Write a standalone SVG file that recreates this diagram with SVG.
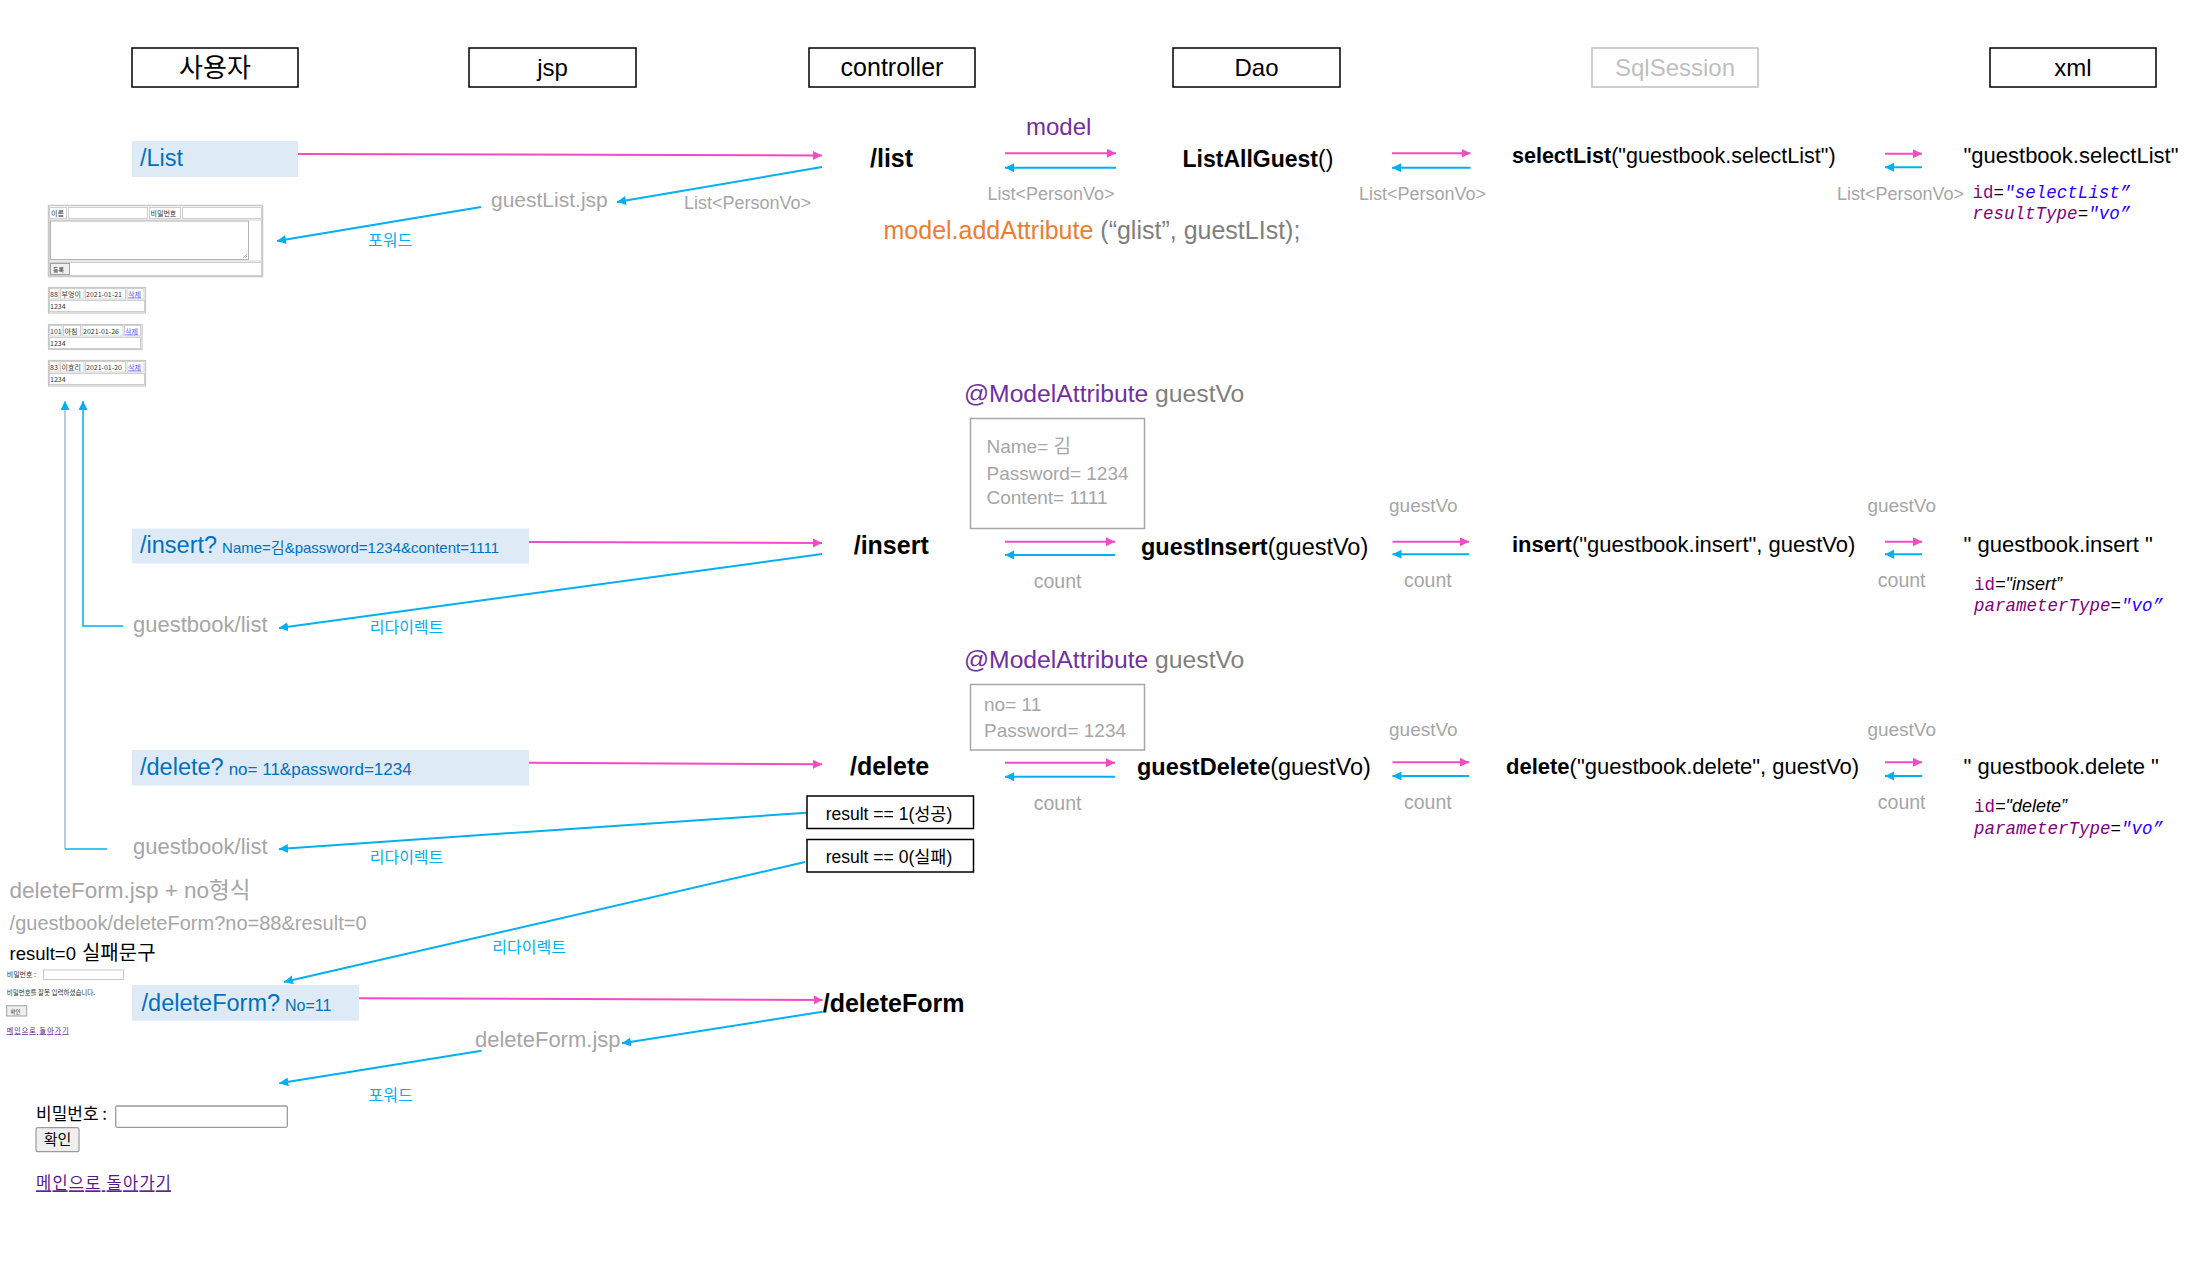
<svg xmlns="http://www.w3.org/2000/svg" width="2192" height="1285" viewBox="0 0 2192 1285">
  <style>
    text { font-family: "Liberation Sans", "Noto Sans CJK KR", sans-serif; }
    .kr { font-family: "Noto Sans CJK KR", "Liberation Sans", sans-serif; }
    .hdr { font-size: 24px; fill: #000; text-anchor: middle; }
    .hbox { fill: #fff; stroke: #000; stroke-width: 1.5; }
    .req { fill: #DEEBF7; }
    .blue { fill: #0070C0; }
    .grey { fill: #A6A6A6; }
    .dgrey { fill: #7F7F7F; }
    .purple { fill: #7030A0; }
    .orange { fill: #ED7D31; }
    .cyan { fill: #00B0F0; }
    .ep { font-size: 25px; font-weight: bold; fill: #000; }
    .call { font-size: 22px; fill: #000; }
    .lbl { font-size: 18px; fill: #A6A6A6; }
    .cnt { font-size: 19.5px; fill: #A6A6A6; }
    .kw { font-size: 16px; fill: #00B0F0; }
    .mono { font-family: "Liberation Mono", "DejaVu Sans Mono", monospace; font-size: 17.5px; }
    .attr { fill: #7F007F; }
    .val { fill: #2A00FF; font-style: italic; }
    .vbox { fill: #fff; stroke: #A6A6A6; stroke-width: 1.5; }
    .pk { stroke: #F24BC4; stroke-width: 2; fill: none; }
    .cy { stroke: #00B0F0; stroke-width: 2; fill: none; }
    .cyt { stroke: #00B0F0; stroke-width: 1.5; fill: none; }
    .gl { stroke: #8EA9C8; stroke-width: 1.2; fill: none; }
    .cell { fill: #fff; stroke: #cfcfcf; stroke-width: 1; }
    .tiny { font-family: "Noto Sans CJK KR", "Liberation Sans", sans-serif; font-size: 7px; fill: #333; }
    .lnk { fill: #5A5AFF; text-decoration: underline; }
    .btn { fill: #EFEFEF; stroke: #A0A0A0; stroke-width: 1; }
  </style>
  <defs>
    <marker id="ap" markerUnits="userSpaceOnUse" markerWidth="10" markerHeight="10" refX="9" refY="4.5" orient="auto">
      <path d="M0,0 L9,4.5 L0,9 z" fill="#F24BC4"/>
    </marker>
    <marker id="ac" markerUnits="userSpaceOnUse" markerWidth="10" markerHeight="10" refX="9" refY="4.5" orient="auto">
      <path d="M0,0 L9,4.5 L0,9 z" fill="#00B0F0"/>
    </marker>
  </defs>

  <rect width="2192" height="1285" fill="#fff"/>

  <!-- column headers -->
  <g id="col-user"><rect class="hbox" x="132" y="48" width="166" height="39"/><text class="hdr kr" x="215" y="77" style="font-size:26px">사용자</text></g>
  <g id="col-jsp"><rect class="hbox" x="469" y="48" width="167" height="39"/><text class="hdr" x="552.5" y="76">jsp</text></g>
  <g id="col-controller"><rect class="hbox" x="809" y="48" width="166" height="39"/><text class="hdr" x="892" y="76" style="font-size:25px">controller</text></g>
  <g id="col-dao"><rect class="hbox" x="1173" y="48" width="167" height="39"/><text class="hdr" x="1256.5" y="76">Dao</text></g>
  <g id="col-sqlsession"><rect class="hbox" x="1592" y="48" width="166" height="39" style="stroke:#BFBFBF"/><text class="hdr" x="1675" y="76" style="fill:#BFBFBF">SqlSession</text></g>
  <g id="col-xml"><rect class="hbox" x="1990" y="48" width="166" height="39"/><text class="hdr" x="2073" y="76">xml</text></g>

  <!-- connectors -->
  <g id="connectors">
    <!-- list flow -->
    <path class="pk" d="M298,154 L822,155.5" marker-end="url(#ap)"/>
    <path class="cy" d="M822,167 L617,202" marker-end="url(#ac)"/>
    <path class="cy" d="M481,207 L277,241" marker-end="url(#ac)"/>
    <path class="pk" d="M1005,153.3 L1116,153.3" marker-end="url(#ap)"/>
    <path class="cy" d="M1116,167.7 L1005,167.7" marker-end="url(#ac)"/>
    <path class="pk" d="M1392,153.3 L1470.5,153.3" marker-end="url(#ap)"/>
    <path class="cy" d="M1470.5,167.7 L1392,167.7" marker-end="url(#ac)"/>
    <path class="pk" d="M1885,153.7 L1922,153.7" marker-end="url(#ap)"/>
    <path class="cy" d="M1922,167.3 L1885,167.3" marker-end="url(#ac)"/>

    <!-- insert flow -->
    <path class="pk" d="M529,542 L822,543" marker-end="url(#ap)"/>
    <path class="cy" d="M822,554 L279,628" marker-end="url(#ac)"/>
    <path class="pk" d="M1005,541.7 L1115,541.7" marker-end="url(#ap)"/>
    <path class="cy" d="M1115,555 L1005,555" marker-end="url(#ac)"/>
    <path class="pk" d="M1392.5,541.7 L1469,541.7" marker-end="url(#ap)"/>
    <path class="cy" d="M1469,554.3 L1392.5,554.3" marker-end="url(#ac)"/>
    <path class="pk" d="M1885,541.7 L1922,541.7" marker-end="url(#ap)"/>
    <path class="cy" d="M1922,554.3 L1885,554.3" marker-end="url(#ac)"/>
    <path class="cyt" d="M123,626 L83,626 L83,401" marker-end="url(#ac)"/>

    <!-- delete flow -->
    <path class="pk" d="M529,762.7 L822,764.3" marker-end="url(#ap)"/>
    <path class="cy" d="M806.7,812.7 L279,849" marker-end="url(#ac)"/>
    <path class="pk" d="M1005,762.7 L1115,762.7" marker-end="url(#ap)"/>
    <path class="cy" d="M1115,776.7 L1005,776.7" marker-end="url(#ac)"/>
    <path class="pk" d="M1392.5,762.3 L1469,762.3" marker-end="url(#ap)"/>
    <path class="cy" d="M1469,776 L1392.5,776" marker-end="url(#ac)"/>
    <path class="pk" d="M1885,762.3 L1922,762.3" marker-end="url(#ap)"/>
    <path class="cy" d="M1922,776 L1885,776" marker-end="url(#ac)"/>
    <path class="cyt" d="M107,849 L65,849"/>
    <path class="gl" d="M65,849 L65,401" marker-end="url(#ac)"/>
    <path class="cy" d="M805,862 L284,982" marker-end="url(#ac)"/>

    <!-- deleteForm flow -->
    <path class="pk" d="M359,998.3 L822.7,1000" marker-end="url(#ap)"/>
    <path class="cy" d="M822.7,1011.7 L622,1043.3" marker-end="url(#ac)"/>
    <path class="cy" d="M481.5,1050.7 L279.3,1083.3" marker-end="url(#ac)"/>
  </g>

  <!-- ===== list row ===== -->
  <g id="req-list"><rect class="req" x="132" y="141" width="166" height="36"/><text class="blue" x="140" y="166" style="font-size:23.5px">/List</text></g>
  <g id="ep-list"><text class="ep" x="870" y="167">/list</text></g>
  <g id="lbl-model"><text class="purple" x="1026" y="135" style="font-size:24px">model</text></g>
  <g id="lbl-list-jsp"><text class="grey" x="491" y="207" style="font-size:21px">guestList.jsp</text></g>
  <g id="lbl-list-ret1"><text class="lbl" x="684" y="209">List&lt;PersonVo&gt;</text></g>
  <g id="lbl-forward1"><text class="kw kr" x="368" y="246">포워드</text></g>
  <g id="lbl-list-ret2"><text class="lbl" x="987.5" y="200">List&lt;PersonVo&gt;</text></g>
  <g id="lbl-list-ret3"><text class="lbl" x="1359" y="200">List&lt;PersonVo&gt;</text></g>
  <g id="lbl-list-ret4"><text class="lbl" x="1837" y="200">List&lt;PersonVo&gt;</text></g>
  <g id="code-addattr"><text x="883.5" y="239" style="font-size:25px"><tspan class="orange">model.addAttribute</tspan><tspan class="dgrey"> (“glist”, guestLIst);</tspan></text></g>
  <g id="dao-list"><text x="1182.5" y="167" style="font-size:23px;fill:#000"><tspan font-weight="bold">ListAllGuest</tspan>()</text></g>
  <g id="sql-list"><text class="call" x="1512" y="163" style="font-size:21.5px"><tspan font-weight="bold">selectList</tspan>("guestbook.selectList")</text></g>
  <g id="xml-list">
    <text class="call" x="1963.5" y="163">"guestbook.selectList"</text>
    <text class="mono" x="1972.6" y="198"><tspan class="attr">id</tspan>=<tspan class="val">"selectList”</tspan></text>
    <text class="mono" x="1972.6" y="219"><tspan class="attr" font-style="italic">resultType</tspan>=<tspan class="val">"vo”</tspan></text>
  </g>

  <!-- list page preview -->
  <g id="page-list">
    <rect x="48.5" y="205.5" width="214" height="71" fill="#fff" stroke="#c8c8c8" stroke-width="1.5"/>
    <rect class="cell" x="49.5" y="207.5" width="17" height="11"/><text class="tiny" x="51" y="216">이름</text>
    <rect class="cell" x="68.5" y="207.5" width="79" height="11"/>
    <rect class="cell" x="149.5" y="207.5" width="31" height="11"/><text class="tiny" x="150.5" y="216">비밀번호</text>
    <rect class="cell" x="182.5" y="207.5" width="79" height="11"/>
    <rect class="cell" x="49.5" y="220" width="212" height="41"/>
    <rect x="50.5" y="221" width="198" height="38.5" fill="#fff" stroke="#b4b4b4"/>
    <path d="M243,258 L247,254 M245,258 L247,256" stroke="#aaa" stroke-width="0.8"/>
    <rect class="cell" x="49.5" y="262.5" width="212" height="13"/>
    <rect class="btn" x="50.5" y="263.5" width="19" height="11"/><text class="tiny" x="53" y="272" style="font-size:6px">등록</text>

    <rect x="48.5" y="287.5" width="97" height="25.5" fill="#fff" stroke="#c8c8c8" stroke-width="1.2"/>
    <rect class="cell" x="49.5" y="288.5" width="9.5" height="10.5"/><text class="tiny" x="50" y="296.5">88</text>
    <rect class="cell" x="60.5" y="288.5" width="23.5" height="10.5"/><text class="tiny" x="61.5" y="296.5">부엉이</text>
    <rect class="cell" x="85.5" y="288.5" width="40" height="10.5"/><text class="tiny" x="86" y="296.5">2021-01-21</text>
    <rect class="cell" x="127" y="288.5" width="17" height="10.5"/><text class="tiny lnk" x="128" y="296.5">삭제</text>
    <rect class="cell" x="49.5" y="300.5" width="95" height="11"/><text class="tiny" x="50" y="309">1234</text>

    <rect x="48.5" y="324.5" width="93.5" height="25" fill="#fff" stroke="#c8c8c8" stroke-width="1.2"/>
    <rect class="cell" x="49.5" y="325.5" width="12.5" height="10.5"/><text class="tiny" x="50" y="333.5">101</text>
    <rect class="cell" x="63.5" y="325.5" width="17" height="10.5"/><text class="tiny" x="64.5" y="333.5">아침</text>
    <rect class="cell" x="82" y="325.5" width="41" height="10.5"/><text class="tiny" x="83" y="333.5">2021-01-26</text>
    <rect class="cell" x="124.5" y="325.5" width="16" height="10.5"/><text class="tiny lnk" x="125" y="333.5">삭제</text>
    <rect class="cell" x="49.5" y="337.5" width="91" height="11"/><text class="tiny" x="50" y="346">1234</text>

    <rect x="48.5" y="360.5" width="97" height="25.5" fill="#fff" stroke="#c8c8c8" stroke-width="1.2"/>
    <rect class="cell" x="49.5" y="361.5" width="9.5" height="10.5"/><text class="tiny" x="50" y="369.5">83</text>
    <rect class="cell" x="60.5" y="361.5" width="23.5" height="10.5"/><text class="tiny" x="61.5" y="369.5">이효리</text>
    <rect class="cell" x="85.5" y="361.5" width="40" height="10.5"/><text class="tiny" x="86" y="369.5">2021-01-20</text>
    <rect class="cell" x="127" y="361.5" width="17" height="10.5"/><text class="tiny lnk" x="128" y="369.5">삭제</text>
    <rect class="cell" x="49.5" y="373.5" width="95" height="11"/><text class="tiny" x="50" y="382">1234</text>
  </g>

  <!-- ===== insert row ===== -->
  <g id="req-insert"><rect class="req" x="132" y="528.5" width="397" height="35"/><text class="blue" x="140" y="553"><tspan style="font-size:23.5px">/insert?</tspan><tspan dx="5" style="font-size:15px">Name=김&amp;password=1234&amp;content=1111</tspan></text></g>
  <g id="ep-insert"><text class="ep" x="853.7" y="554">/insert</text></g>
  <g id="lbl-redirect1"><text class="kw kr" x="369.7" y="633">리다이렉트</text></g>
  <g id="view-insert"><text class="grey" x="133" y="632" style="font-size:22px">guestbook/list</text></g>
  <g id="vo-insert">
    <text x="964" y="402" style="font-size:24.7px"><tspan class="purple">@ModelAttribute</tspan><tspan class="dgrey"> guestVo</tspan></text>
    <rect class="vbox" x="970.5" y="418.5" width="174" height="110"/>
    <text class="grey" x="986.5" y="453" style="font-size:19px">Name= 김</text>
    <text class="grey" x="986.5" y="480" style="font-size:19px">Password= 1234</text>
    <text class="grey" x="986.5" y="504" style="font-size:19px">Content= 1111</text>
  </g>
  <g id="lbl-insert-count1"><text class="cnt" x="1033.7" y="588">count</text></g>
  <g id="dao-insert"><text x="1141" y="555" style="font-size:23.5px;fill:#000"><tspan font-weight="bold">guestInsert</tspan>(guestVo)</text></g>
  <g id="lbl-insert-vo2"><text class="cnt" x="1389" y="512" style="font-size:19px">guestVo</text></g>
  <g id="lbl-insert-count2"><text class="cnt" x="1404" y="587">count</text></g>
  <g id="sql-insert"><text class="call" x="1512" y="552"><tspan font-weight="bold">insert</tspan>("guestbook.insert", guestVo)</text></g>
  <g id="lbl-insert-vo3"><text class="cnt" x="1867.4" y="512" style="font-size:19px">guestVo</text></g>
  <g id="lbl-insert-count3"><text class="cnt" x="1877.8" y="587">count</text></g>
  <g id="xml-insert">
    <text class="call" x="1963.5" y="552">" guestbook.insert "</text>
    <text x="1974" y="590"><tspan class="mono attr">id</tspan><tspan style="font-size:18px;font-style:italic;fill:#000">="insert”</tspan></text>
    <text class="mono" x="1974" y="611"><tspan class="attr" font-style="italic">parameterType</tspan>=<tspan class="val">"vo”</tspan></text>
  </g>

  <!-- ===== delete row ===== -->
  <g id="req-delete"><rect class="req" x="132" y="750" width="397" height="35.5"/><text class="blue" x="140" y="775"><tspan style="font-size:23.5px">/delete?</tspan><tspan dx="5" style="font-size:17px">no= 11&amp;password=1234</tspan></text></g>
  <g id="ep-delete"><text class="ep" x="850" y="775">/delete</text></g>
  <g id="res-ok"><rect class="hbox" x="807" y="796" width="166.5" height="32.5"/><text x="825.7" y="819.5" style="font-size:17.5px;fill:#000">result == 1(성공)</text></g>
  <g id="res-fail"><rect class="hbox" x="807" y="839.5" width="166.5" height="32.5"/><text x="825.7" y="862.5" style="font-size:17.5px;fill:#000">result == 0(실패)</text></g>
  <g id="view-delete"><text class="grey" x="133" y="854" style="font-size:22px">guestbook/list</text></g>
  <g id="lbl-redirect2"><text class="kw kr" x="369.7" y="863">리다이렉트</text></g>
  <g id="vo-delete">
    <text x="964" y="668" style="font-size:24.7px"><tspan class="purple">@ModelAttribute</tspan><tspan class="dgrey"> guestVo</tspan></text>
    <rect class="vbox" x="970.5" y="684.5" width="174" height="65.5"/>
    <text class="grey" x="984" y="711" style="font-size:19px">no= 11</text>
    <text class="grey" x="984" y="737" style="font-size:19px">Password= 1234</text>
  </g>
  <g id="lbl-delete-count1"><text class="cnt" x="1033.7" y="810">count</text></g>
  <g id="dao-delete"><text x="1137" y="775" style="font-size:23.5px;fill:#000"><tspan font-weight="bold">guestDelete</tspan>(guestVo)</text></g>
  <g id="lbl-delete-vo2"><text class="cnt" x="1389" y="736" style="font-size:19px">guestVo</text></g>
  <g id="lbl-delete-count2"><text class="cnt" x="1404" y="808.5">count</text></g>
  <g id="sql-delete"><text class="call" x="1506" y="773.5"><tspan font-weight="bold">delete</tspan>("guestbook.delete", guestVo)</text></g>
  <g id="lbl-delete-vo3"><text class="cnt" x="1867.4" y="736" style="font-size:19px">guestVo</text></g>
  <g id="lbl-delete-count3"><text class="cnt" x="1877.8" y="808.5">count</text></g>
  <g id="xml-delete">
    <text class="call" x="1963.5" y="773.5">" guestbook.delete "</text>
    <text x="1974" y="812"><tspan class="mono attr">id</tspan><tspan style="font-size:18px;font-style:italic;fill:#000">="delete”</tspan></text>
    <text class="mono" x="1974" y="834"><tspan class="attr" font-style="italic">parameterType</tspan>=<tspan class="val">"vo”</tspan></text>
  </g>

  <!-- ===== deleteForm row ===== -->
  <g id="note-deleteform">
    <text class="grey" x="9.6" y="898" style="font-size:22.5px">deleteForm.jsp + no형식</text>
    <text class="grey" x="9.6" y="930" style="font-size:20px">/guestbook/deleteForm?no=88&amp;result=0</text>
    <text x="9.6" y="960" style="font-size:18.5px;fill:#000">result=0<tspan dx="6" style="font-size:20px">실패문구</tspan></text>
  </g>
  <g id="page-deleteform-fail">
    <text class="tiny" x="6.7" y="976.5">비밀번호 :</text>
    <rect x="43.5" y="970" width="80" height="9.5" fill="#fff" stroke="#bbb" stroke-width="0.8"/>
    <text class="tiny" x="6.7" y="994.5" style="font-size:6.5px">비밀번호를 잘못 입력하셨습니다.</text>
    <rect class="btn" x="6.7" y="1005.7" width="20" height="10.3"/>
    <text class="tiny" x="10.5" y="1013.5" style="font-size:5.5px">확인</text>
    <text class="tiny" x="6.7" y="1033.3" textLength="62" style="fill:#551A8B;text-decoration:underline;font-size:7px">메인으로 돌아가기</text>
  </g>
  <g id="req-deleteform"><rect class="req" x="132" y="985" width="227" height="35.7"/><text class="blue" x="141.6" y="1010.7"><tspan style="font-size:23.5px">/deleteForm?</tspan><tspan dx="5" style="font-size:16px">No=11</tspan></text></g>
  <g id="lbl-redirect3"><text class="kw kr" x="492.3" y="953">리다이렉트</text></g>
  <g id="ep-deleteform"><text class="ep" x="822.7" y="1011.7">/deleteForm</text></g>
  <g id="view-deleteform"><text class="grey" x="475" y="1046.7" style="font-size:22px">deleteForm.jsp</text></g>
  <g id="lbl-forward2"><text class="kw kr" x="368.6" y="1100.7">포워드</text></g>
  <g id="page-deleteform">
    <text class="kr" x="36" y="1120" style="font-size:17px;fill:#000">비밀번호 :</text>
    <rect x="115.7" y="1106" width="171.6" height="21.3" rx="1.5" fill="#fff" stroke="#9a9a9a" stroke-width="1.3"/>
    <rect x="36" y="1127.7" width="43" height="24" rx="2" fill="#EFEFEF" stroke="#9a9a9a" stroke-width="1.2"/>
    <text class="kr" x="57.5" y="1145" style="font-size:15px;fill:#000;text-anchor:middle">확인</text>
    <text class="kr" x="36" y="1189.3" textLength="135" style="font-size:16.5px;fill:#551A8B;text-decoration:underline">메인으로 돌아가기</text>
  </g>
</svg>
